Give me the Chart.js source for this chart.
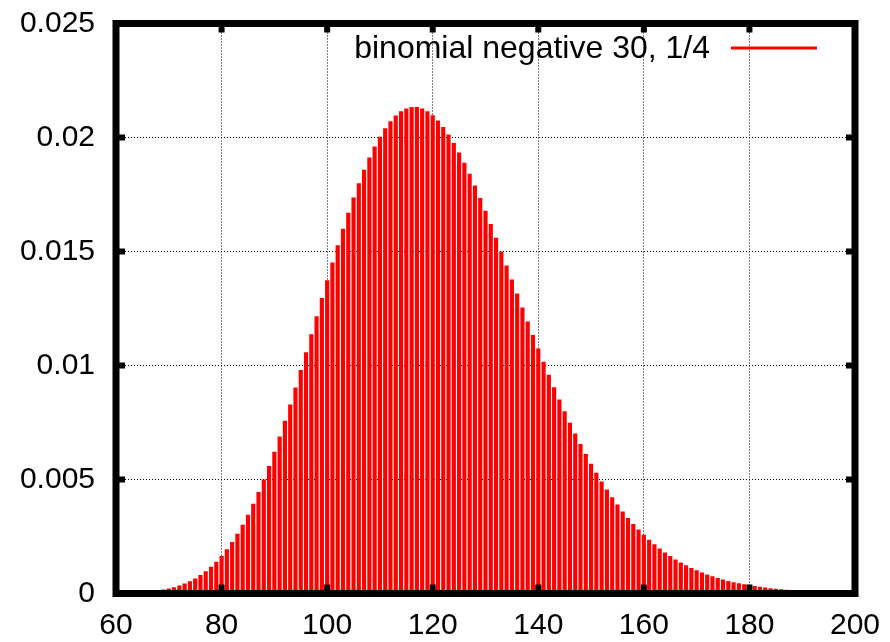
<!DOCTYPE html>
<html>
<head>
<meta charset="utf-8">
<script src="https://cdn.jsdelivr.net/npm/chart.js@4/dist/chart.umd.min.js"></script>
<style>
  html, body { margin: 0; padding: 0; background: #fff; }
  canvas { display: block; }
</style>
</head>
<body>
<canvas id="pmfChart" width="890" height="642"></canvas>
<script>
// number of trials (x) and probability
const trials = [
  60, 61, 62, 63, 64, 65, 66, 67, 68, 69, 70, 71, 72, 73, 74, 75, 76, 77, 78, 79,
  80, 81, 82, 83, 84, 85, 86, 87, 88, 89, 90, 91, 92, 93, 94, 95, 96, 97, 98, 99,
  100, 101, 102, 103, 104, 105, 106, 107, 108, 109, 110, 111, 112, 113, 114, 115, 116, 117, 118, 119,
  120, 121, 122, 123, 124, 125, 126, 127, 128, 129, 130, 131, 132, 133, 134, 135, 136, 137, 138, 139,
  140, 141, 142, 143, 144, 145, 146, 147, 148, 149, 150, 151, 152, 153, 154, 155, 156, 157, 158, 159,
  160, 161, 162, 163, 164, 165, 166, 167, 168, 169, 170, 171, 172, 173, 174, 175, 176, 177, 178, 179,
  180, 181, 182, 183, 184, 185, 186, 187, 188, 189, 190, 191, 192, 193, 194, 195, 196, 197, 198, 199, 200
];
const probabilities = [
  0.000009, 0.000013, 0.000019, 0.000027, 0.000037, 0.000051, 0.000069, 0.000092, 0.000122, 0.000160,
  0.000207, 0.000265, 0.000336, 0.000422, 0.000525, 0.000647, 0.000792, 0.000960, 0.001155, 0.001379,
  0.001634, 0.001922, 0.002246, 0.002606, 0.003004, 0.003441, 0.003917, 0.004433, 0.004987, 0.005579,
  0.006207, 0.006868, 0.007560, 0.008280, 0.009024, 0.009788, 0.010567, 0.011356, 0.012149, 0.012941,
  0.013727, 0.014500, 0.015255, 0.015986, 0.016688, 0.017355, 0.017983, 0.018567, 0.019103, 0.019587,
  0.020015, 0.020386, 0.020697, 0.020946, 0.021133, 0.021257, 0.021319, 0.021319, 0.021258, 0.021139,
  0.020963, 0.020733, 0.020451, 0.020121, 0.019746, 0.019330, 0.018877, 0.018391, 0.017875, 0.017333,
  0.016770, 0.016189, 0.015594, 0.014988, 0.014376, 0.013760, 0.013143, 0.012529, 0.011920, 0.011319,
  0.010727, 0.010147, 0.009581, 0.009030, 0.008495, 0.007978, 0.007479, 0.007000, 0.006540, 0.006100,
  0.005681, 0.005282, 0.004903, 0.004544, 0.004205, 0.003885, 0.003584, 0.003302, 0.003038, 0.002791,
  0.002560, 0.002345, 0.002145, 0.001960, 0.001788, 0.001629, 0.001482, 0.001347, 0.001223, 0.001109,
  0.001004, 0.000908, 0.000820, 0.000740, 0.000667, 0.000600, 0.000539, 0.000484, 0.000434, 0.000389,
  0.000348, 0.000311, 0.000278, 0.000248, 0.000221, 0.000197, 0.000175, 0.000155, 0.000138, 0.000122,
  0.000108, 0.000096, 0.000085, 0.000075, 0.000066, 0.000058, 0.000051, 0.000045, 0.000040, 0.000035,
  0.000031
];
const xTicks = [60, 80, 100, 120, 140, 160, 180, 200];
const yTicks = [0, 0.005, 0.01, 0.015, 0.02, 0.025];
const seriesLabel = "binomial negative 30, 1/4";

const FONT = "'Liberation Sans', Arial, Helvetica, sans-serif";

// gnuplot style thick border with inward ticks on all four sides
const framePlugin = {
  id: "frame",
  afterDatasetsDraw(chart) {
    const { ctx, chartArea: a, scales: { x, y } } = chart;
    ctx.save();
    ctx.strokeStyle = "#000";
    ctx.lineWidth = 7;
    ctx.strokeRect(a.left, a.top, a.right - a.left, a.bottom - a.top);
    ctx.lineWidth = 6;
    ctx.beginPath();
    xTicks.forEach((v) => {
      const px = x.getPixelForValue(v);
      ctx.moveTo(px, a.bottom);
      ctx.lineTo(px, a.bottom - 9);
      ctx.moveTo(px, a.top);
      ctx.lineTo(px, a.top + 9);
    });
    yTicks.forEach((v) => {
      const py = y.getPixelForValue(v);
      ctx.moveTo(a.left, py);
      ctx.lineTo(a.left + 9, py);
      ctx.moveTo(a.right, py);
      ctx.lineTo(a.right - 9, py);
    });
    ctx.stroke();
    ctx.restore();
  },
};

// key: text first, then the line sample, top right
const keyPlugin = {
  id: "key",
  afterDraw(chart) {
    const { ctx } = chart;
    const ds = chart.data.datasets[0];
    ctx.save();
    ctx.font = "32px " + FONT;
    ctx.fillStyle = "#000";
    ctx.textAlign = "right";
    ctx.textBaseline = "alphabetic";
    ctx.fillText(ds.label, 710, 58);
    ctx.strokeStyle = ds.backgroundColor;
    ctx.lineWidth = 3;
    ctx.beginPath();
    ctx.moveTo(731, 48);
    ctx.lineTo(817, 48);
    ctx.stroke();
    ctx.restore();
  },
};

const hideEdges = (edges) => (c) =>
  c.tick && edges.includes(c.tick.value) ? "rgba(0,0,0,0)" : "#000";

new Chart(document.getElementById("pmfChart"), {
  type: "bar",
  data: {
    datasets: [
      {
        label: seriesLabel,
        data: trials.map((t, i) => ({ x: t, y: probabilities[i] })),
        backgroundColor: "#ff0000",
        borderWidth: 0,
        barThickness: 3.5,
      },
    ],
  },
  options: {
    responsive: false,
    animation: false,
    devicePixelRatio: 1,
    layout: { padding: { left: 0, right: 35, top: 23.5, bottom: 0 } },
    plugins: {
      legend: { display: false },
      tooltip: { enabled: false },
    },
    scales: {
      x: {
        type: "linear",
        min: 60,
        max: 200,
        offset: false,
        afterBuildTicks: (scale) => {
          scale.ticks = xTicks.map((v) => ({ value: v }));
        },
        afterFit: (scale) => {
          scale.height = 48.5;
          scale.paddingLeft = 0;
          scale.paddingRight = 0;
        },
        ticks: {
          color: "#000",
          font: { family: FONT, size: 30 },
          padding: 14,
          maxRotation: 0,
          callback: (v) => String(v),
        },
        grid: { color: hideEdges([60, 200]), lineWidth: 1, drawTicks: false, offset: false },
        border: { display: false, dash: [1, 2] },
      },
      y: {
        min: 0,
        max: 0.025,
        afterBuildTicks: (scale) => {
          scale.ticks = yTicks.map((v) => ({ value: v }));
        },
        afterFit: (scale) => {
          scale.width = 116;
          scale.paddingTop = 0;
          scale.paddingBottom = 0;
        },
        ticks: {
          color: "#000",
          font: { family: FONT, size: 30 },
          padding: 21,
          callback: (v) => String(+v.toFixed(3)),
        },
        grid: { color: hideEdges([0, 0.025]), lineWidth: 1, drawTicks: false },
        border: { display: false, dash: [1, 2] },
      },
    },
  },
  plugins: [framePlugin, keyPlugin],
});
</script>
</body>
</html>
